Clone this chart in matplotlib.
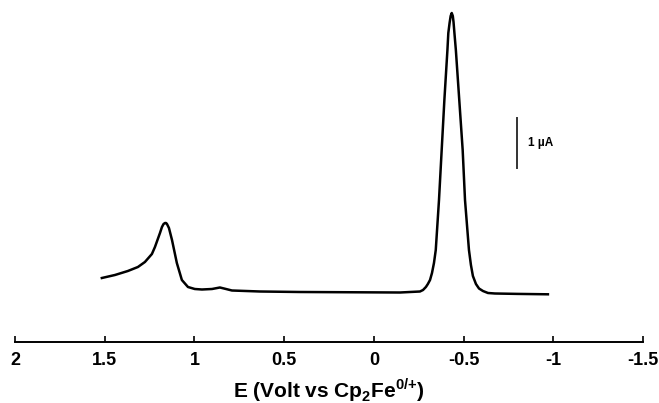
import matplotlib
matplotlib.use("Agg")
import matplotlib.pyplot as plt

# Potential (V vs Cp2Fe0/+) and current (uA, relative to baseline)
E = [1.516, 1.443, 1.371, 1.315, 1.276, 1.237, 1.220, 1.192, 1.181, 1.172, 1.164, 1.158,
     1.153, 1.142, 1.125, 1.098, 1.070, 1.036, 0.998, 0.958, 0.902, 0.858, 0.824,
     0.791, 0.634, 0.411, 0.133, -0.146, -0.257, -0.274, -0.290, -0.301, -0.313,
     -0.324, -0.335, -0.345, -0.363, -0.378, -0.393, -0.410, -0.415, -0.422, -0.428,
     -0.434, -0.440, -0.444, -0.449, -0.457, -0.476, -0.495, -0.508, -0.530, -0.541,
     -0.552, -0.569, -0.586, -0.608, -0.636, -0.675, -0.800, -0.970]
I = [0.30, 0.36, 0.44, 0.52, 0.62, 0.78, 0.92, 1.20, 1.32, 1.38, 1.40, 1.40,
     1.38, 1.30, 1.06, 0.60, 0.26, 0.12, 0.08, 0.07, 0.08, 0.11, 0.08,
     0.05, 0.03, 0.02, 0.015, 0.01, 0.03, 0.06, 0.12, 0.18, 0.26,
     0.40, 0.60, 0.86, 1.86, 2.86, 3.86, 4.86, 5.20, 5.40, 5.54,
     5.60, 5.54, 5.42, 5.20, 4.86, 3.86, 2.86, 1.86, 0.86, 0.56,
     0.34, 0.18, 0.09, 0.04, 0.0, -0.01, -0.018, -0.026]

xticks = [2, 1.5, 1, 0.5, 0, -0.5, -1, -1.5]
xticklabels = ["2", "1.5", "1", "0.5", "0", "-0.5", "-1", "-1.5"]

plt.rcParams['font.family'] = ['Liberation Sans', 'DejaVu Sans']
plt.rcParams['mathtext.fontset'] = 'custom'
plt.rcParams['mathtext.rm'] = 'Liberation Sans'
plt.rcParams['mathtext.bf'] = 'Liberation Sans:bold'

fig = plt.figure(figsize=(6.59, 4.03), dpi=100)
ax = fig.add_axes([15/659, 1 - 342/403, (643 - 15)/659, 342/403])
ax.plot(E, I, color='black', lw=1.8, solid_joinstyle='round')

ax.set_xlim(2, -1.5)
ax.set_ylim(-(342 - 293)/50, 342/50 - (342 - 293)/50)

for s in ['left', 'right', 'top']:
    ax.spines[s].set_visible(False)
ax.spines['bottom'].set_linewidth(1.4)
ax.set_yticks([])
ax.set_xticks(xticks)
ax.set_xticklabels(xticklabels, fontsize=13, fontweight='bold')
ax.tick_params(axis='x', direction='in', length=4, width=1.2, pad=7)
ax.set_xlabel(r"E (Volt vs Cp$_\mathbf{2}$Fe$^{\mathbf{0/{+}}}$)", fontsize=15,
              fontweight='bold', labelpad=5)

# scale bar 1 uA
ax.plot([-0.798, -0.798], [2.5, 3.5], color='#333333', lw=1.4)
ax.text(-0.86, 3.0, "1 µA", fontsize=8.5, fontweight='bold', va='center', ha='left')

fig.savefig("out.png", dpi=100)
